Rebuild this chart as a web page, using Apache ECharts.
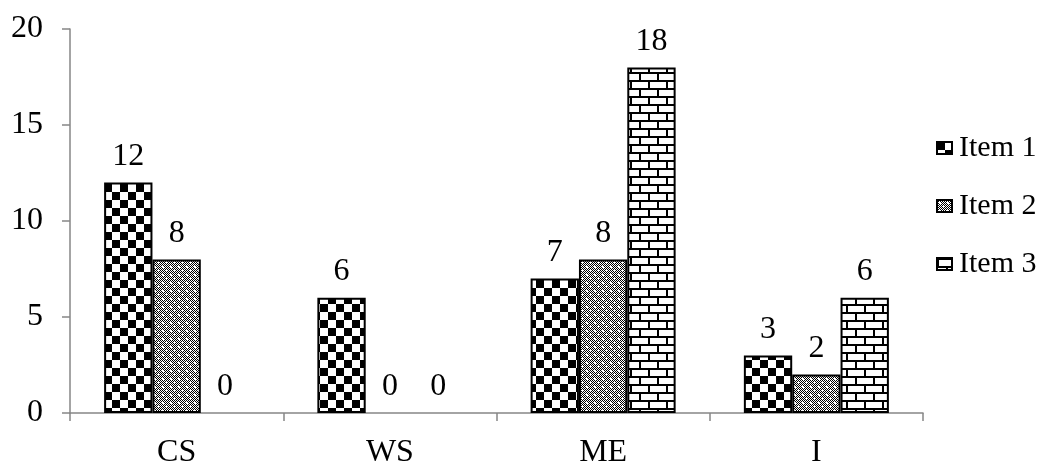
<!DOCTYPE html>
<html>
<head>
<meta charset="utf-8">
<script src="https://cdn.jsdelivr.net/npm/echarts@6/dist/echarts.min.js"></script>
<style>
html,body{margin:0;padding:0;background:#fff;}
#chart{width:1045px;height:464px;}
</style>
</head>
<body>
<div id="chart"></div>
<script>
const categories = ['CS', 'WS', 'ME', 'I'];
const seriesNames = ['Item 1', 'Item 2', 'Item 3'];
const item1 = [12, 6, 7, 3];
const item2 = [8, 0, 8, 2];
const item3 = [0, 0, 18, 6];

function makeCanvas(w, h, draw) {
  const c = document.createElement('canvas');
  c.width = w; c.height = h;
  const ctx = c.getContext('2d');
  ctx.fillStyle = '#fff';
  ctx.fillRect(0, 0, w, h);
  draw(ctx);
  return c;
}
const checker = makeCanvas(16, 16, ctx => {
  ctx.fillStyle = '#000';
  ctx.fillRect(0, 0, 8, 8);
  ctx.fillRect(8, 8, 8, 8);
});
const dots = makeCanvas(8, 8, ctx => {
  ctx.fillStyle = '#000';
  for (let y = 0; y < 8; y++) for (let x = 0; x < 8; x++) {
    if ((x + y) % 2 === 0) ctx.fillRect(x, y, 1, 1);
  }
  ctx.fillStyle = '#fff';
  ctx.fillRect(2, 2, 2, 2);
  ctx.fillRect(6, 6, 1, 1);
});
const brick = makeCanvas(18, 16, ctx => {
  ctx.fillStyle = '#000';
  ctx.fillRect(0, 0, 18, 2);
  ctx.fillRect(0, 8, 18, 2);
  ctx.fillRect(0, 0, 2, 8);
  ctx.fillRect(9, 8, 2, 8);
});
const patterns = [checker, dots, brick];
const values = [item1, item2, item3];

const font = "'Liberation Serif', 'Times New Roman', serif";
const chart = echarts.init(document.getElementById('chart'));
chart.setOption({
  animation: false,
  grid: { left: 70, right: 122, top: 29, bottom: 51, containLabel: false, outerBoundsMode: 'none' },
  legend: {
    orient: 'vertical',
    left: 931, top: 128,
    itemWidth: 15, itemHeight: 12, itemGap: 28,
    icon: 'rect',
    textStyle: { fontFamily: font, fontSize: 30, color: '#000', lineHeight: 30, padding: [0, 0, 0, 2] },
    data: seriesNames
  },
  xAxis: {
    type: 'category',
    data: categories,
    axisLine: { lineStyle: { color: '#868686', width: 1.5 } },
    axisTick: { show: true, length: 8, lineStyle: { color: '#868686', width: 1.5 } },
    axisLabel: { fontFamily: font, fontSize: 32, color: '#000', margin: 24 }
  },
  yAxis: {
    type: 'value',
    min: 0, max: 20, interval: 5,
    axisLine: { show: true, lineStyle: { color: '#868686', width: 1.5 } },
    axisTick: { show: true, length: 8, lineStyle: { color: '#868686', width: 1.5 } },
    splitLine: { show: false },
    axisLabel: { fontFamily: font, fontSize: 32, color: '#000', margin: 27 }
  },
  series: seriesNames.map((name, i) => ({
    name: name,
    type: 'bar',
    data: values[i].map(v => ({ value: v, itemStyle: { borderWidth: v === 0 ? 0 : 2 } })),
    barGap: '0%',
    barCategoryGap: '32%',
    itemStyle: {
      color: { image: patterns[i], repeat: 'repeat' },
      borderColor: '#000',
      borderWidth: 2
    },
    label: {
      show: true, position: 'top', distance: 10,
      fontFamily: font, fontSize: 32, color: '#000'
    }
  }))
});
</script>
</body>
</html>
